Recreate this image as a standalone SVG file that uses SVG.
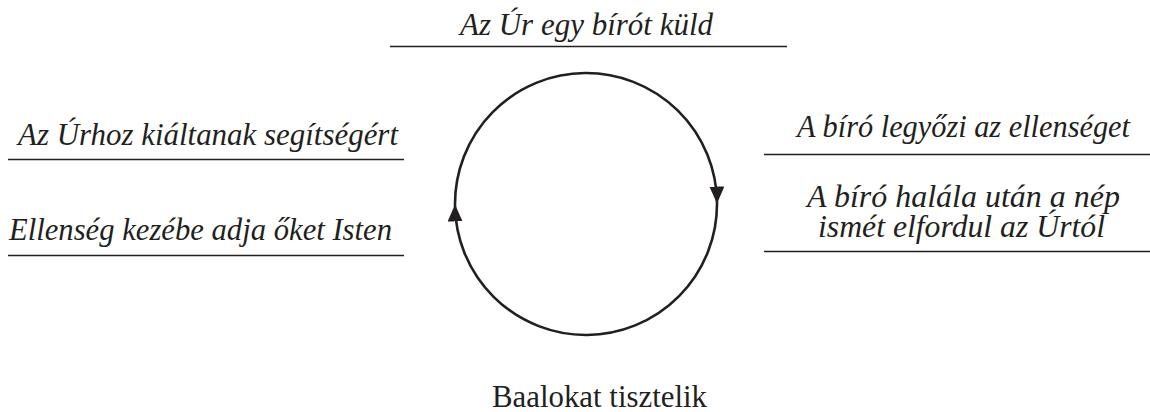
<svg xmlns="http://www.w3.org/2000/svg" width="1150" height="412" viewBox="0 0 1150 412">
<style>
.t{font-family:"Liberation Serif","Times New Roman",serif;font-style:italic;font-size:31px;fill:#231f20;text-anchor:middle}
.u{font-family:"Liberation Serif","Times New Roman",serif;font-size:31px;fill:#231f20;text-anchor:middle}
.rule{stroke:#231f20;stroke-width:1.3;fill:none}
.arc{stroke:#231f20;stroke-width:2.6;fill:none}
</style>
<defs>
<marker id="ah" markerUnits="userSpaceOnUse" markerWidth="20" markerHeight="18" refX="16.5" refY="7.5" orient="auto">
<path d="M0,0 L17,7.5 L0,15 Z" fill="#231f20"/>
</marker>
</defs>
<g id="connectors">
<path class="arc" d="M455,205 A131,131 0 0 1 717,203" marker-end="url(#ah)"/>
<path class="arc" d="M717,203 A131,131 0 0 1 455,205" marker-end="url(#ah)"/>
</g>
<g id="n-top">
<text class="t" x="586.5" y="35" textLength="253" lengthAdjust="spacingAndGlyphs">Az Úr egy bírót küld</text>
<line class="rule" x1="390" y1="46.5" x2="787" y2="46.5"/>
</g>
<g id="n-left1">
<text class="t" x="208" y="145" textLength="380" lengthAdjust="spacingAndGlyphs">Az Úrhoz kiáltanak segítségért</text>
<line class="rule" x1="8" y1="159.5" x2="404" y2="159.5"/>
</g>
<g id="n-left2">
<text class="t" x="200.5" y="240" textLength="383" lengthAdjust="spacingAndGlyphs">Ellenség kezébe adja őket Isten</text>
<line class="rule" x1="8" y1="255.5" x2="404" y2="255.5"/>
</g>
<g id="n-right1">
<text class="t" x="963.5" y="136.5" textLength="333" lengthAdjust="spacingAndGlyphs">A bíró legyőzi az ellenséget</text>
<line class="rule" x1="764" y1="154.5" x2="1150" y2="154.5"/>
</g>
<g id="n-right2">
<text class="t" x="963.5" y="206.5" textLength="313" lengthAdjust="spacingAndGlyphs">A bíró halála után a nép</text>
<text class="t" x="961.5" y="236.5" textLength="287" lengthAdjust="spacingAndGlyphs">ismét elfordul az Úrtól</text>
<line class="rule" x1="764" y1="251.5" x2="1150" y2="251.5"/>
</g>
<g id="n-bottom">
<text class="u" x="599.5" y="407" textLength="215" lengthAdjust="spacingAndGlyphs">Baalokat tisztelik</text>
</g>
</svg>
